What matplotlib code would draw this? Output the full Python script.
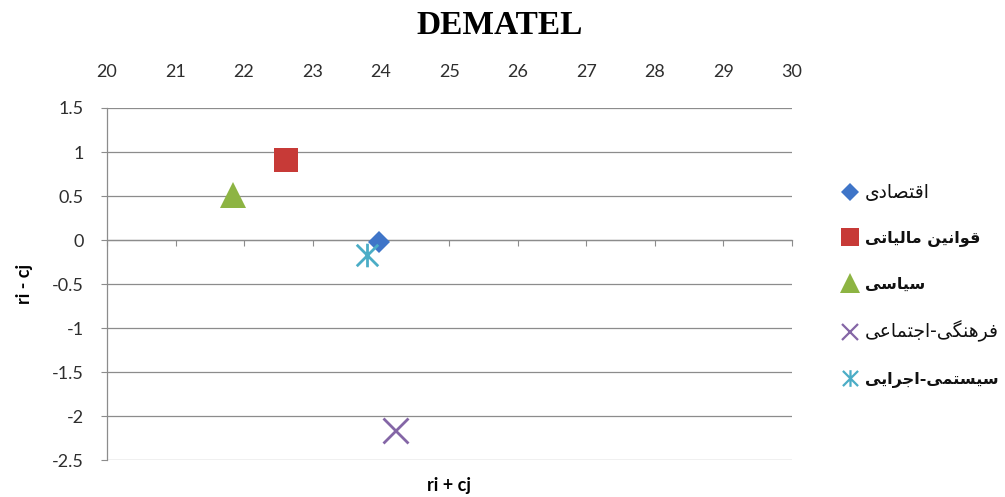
import numpy as np
import matplotlib
matplotlib.use("Agg")
import matplotlib.pyplot as plt
from matplotlib.path import Path
from matplotlib.ticker import FuncFormatter

plt.rcParams['axes.unicode_minus'] = False

# data
labels = ['اقتصادی', 'قوانین مالیاتی', 'سیاسی', 'فرهنگی-اجتماعی', 'سیستمی-اجرایی']
ri_plus_cj = [23.97, 22.61, 21.84, 24.20, 23.79]
ri_minus_cj = [-0.02, 0.91, 0.51, -2.16, -0.17]
x_ticks = list(range(20, 31))
y_ticks = [-2.5, -2, -1.5, -1, -0.5, 0, 0.5, 1, 1.5]

# simple arabic shaping (matplotlib has no text shaping): iso, fin, ini, med
FORMS = {
    'ا': ('\uFE8D', '\uFE8E', None, None),
    'ب': ('\uFE8F', '\uFE90', '\uFE91', '\uFE92'),
    'ت': ('\uFE95', '\uFE96', '\uFE97', '\uFE98'),
    'ج': ('\uFE9D', '\uFE9E', '\uFE9F', '\uFEA0'),
    'د': ('\uFEA9', '\uFEAA', None, None),
    'ر': ('\uFEAD', '\uFEAE', None, None),
    'س': ('\uFEB1', '\uFEB2', '\uFEB3', '\uFEB4'),
    'ص': ('\uFEB9', '\uFEBA', '\uFEBB', '\uFEBC'),
    'ع': ('\uFEC9', '\uFECA', '\uFECB', '\uFECC'),
    'ف': ('\uFED1', '\uFED2', '\uFED3', '\uFED4'),
    'ق': ('\uFED5', '\uFED6', '\uFED7', '\uFED8'),
    'ل': ('\uFEDD', '\uFEDE', '\uFEDF', '\uFEE0'),
    'م': ('\uFEE1', '\uFEE2', '\uFEE3', '\uFEE4'),
    'ن': ('\uFEE5', '\uFEE6', '\uFEE7', '\uFEE8'),
    'ه': ('\uFEE9', '\uFEEA', '\uFEEB', '\uFEEC'),
    'و': ('\uFEED', '\uFEEE', None, None),
    'ی': ('\uFBFC', '\uFBFD', '\uFBFE', '\uFBFF'),
    'گ': ('\uFB92', '\uFB93', '\uFB94', '\uFB95'),
}


def shape(text):
    out = []
    for i, c in enumerate(text):
        if c not in FORMS:
            out.append(c)
            continue
        prev = text[i - 1] if i > 0 else None
        nxt = text[i + 1] if i + 1 < len(text) else None
        join_prev = prev in FORMS and FORMS[prev][2] is not None
        join_next = nxt in FORMS and FORMS[c][2] is not None
        iso, fin, ini, med = FORMS[c]
        if join_prev and join_next:
            out.append(med)
        elif join_prev:
            out.append(fin)
        elif join_next:
            out.append(ini)
        else:
            out.append(iso)
    return ''.join(reversed(out))


# excel style asterisk: x with a vertical bar
star = Path([(-1, -1), (1, 1), (-1, 1), (1, -1), (0, -1.1), (0, 1.1)],
            [Path.MOVETO, Path.LINETO, Path.MOVETO, Path.LINETO, Path.MOVETO, Path.LINETO])

styles = [
    dict(marker='D', color='#3F75C8', ms=11, mew=0, lms=9),
    dict(marker='s', color='#C73A37', ms=17, mew=0, lms=13),
    dict(marker='^', color='#8DB443', ms=19, mew=0, lms=14),
    dict(marker='x', color='#8466A6', ms=18, mew=2, lms=12),
    dict(marker=star, color='#4BADC6', ms=17, mew=2, lms=12),
]
# legend text: (size, weight)
leg_font = [(13.5, 'normal'), (11.5, 'bold'), (11.5, 'bold'), (13.5, 'normal'), (11.5, 'bold')]

fig = plt.figure(figsize=(10.05, 4.97), dpi=100)
ax = fig.add_axes([0.1065, 0.0744, 0.6815, 0.7083])

for i in range(len(labels)):
    st = styles[i]
    ax.plot(ri_plus_cj[i], ri_minus_cj[i], linestyle='none', marker=st['marker'],
            color=st['color'], markersize=st['ms'], markeredgewidth=st['mew'],
            markeredgecolor=st['color'], label=shape(labels[i]), zorder=3)

ax.set_xlim(20, 30)
ax.set_ylim(-2.5, 1.5)
ax.set_xticks(x_ticks)
ax.set_yticks(y_ticks)
ax.yaxis.set_major_formatter(FuncFormatter(lambda v, p: '%g' % v))

grid_c = '#8C8C8C'
ax.grid(axis='y', color=grid_c, linewidth=0.9)
ax.set_axisbelow(True)
for s in ['top', 'right']:
    ax.spines[s].set_visible(False)
ax.spines['bottom'].set_position(('data', 0))
ax.spines['bottom'].set_color(grid_c)
ax.spines['left'].set_color(grid_c)
ax.spines['bottom'].set_linewidth(0.9)
ax.spines['left'].set_linewidth(0.9)

ax.tick_params(axis='x', bottom=True, top=False, labelbottom=False, labeltop=True,
               direction='out', length=4.5, color=grid_c, pad=16,
               labelsize=13, labelcolor='#2E2E2E')
ax.tick_params(axis='y', direction='out', length=4.5, color=grid_c, pad=12,
               labelsize=13, labelcolor='#2E2E2E')
for t in ax.get_xticklabels() + ax.get_yticklabels():
    t.set_fontfamily('Lato')

ax.set_xlabel('ri + cj', fontsize=13, fontweight='bold', family='Lato')
ax.xaxis.set_label_coords(0.5, -0.071)
ax.xaxis.label.set_verticalalignment('center')
ax.set_ylabel('ri - cj', fontsize=13, fontweight='bold', family='Lato')
ax.yaxis.set_label_coords(-0.12, 0.5)
ax.yaxis.label.set_verticalalignment('center')

fig.text(0.497, 1 - 25 / 497, 'DEMATEL', ha='center', va='center',
         fontsize=24, fontweight='bold', family='Liberation Serif')

leg = fig.legend(loc='upper left', bbox_to_anchor=(0.837, 0.632), frameon=False,
                 handlelength=1.0, handletextpad=0.3,
                 labelspacing=1.6, borderpad=0, borderaxespad=0, numpoints=1,
                 prop={'family': 'DejaVu Sans', 'size': 13})
for i, t in enumerate(leg.get_texts()):
    t.set_fontsize(leg_font[i][0])
    t.set_fontweight(leg_font[i][1])
    t.set_color('#111111')
for i, h in enumerate(leg.legend_handles):
    h.set_markersize(styles[i]['lms'])
    h.set_markeredgewidth(1.6 if styles[i]['mew'] else 0)

fig.savefig('out.png', dpi=100)
